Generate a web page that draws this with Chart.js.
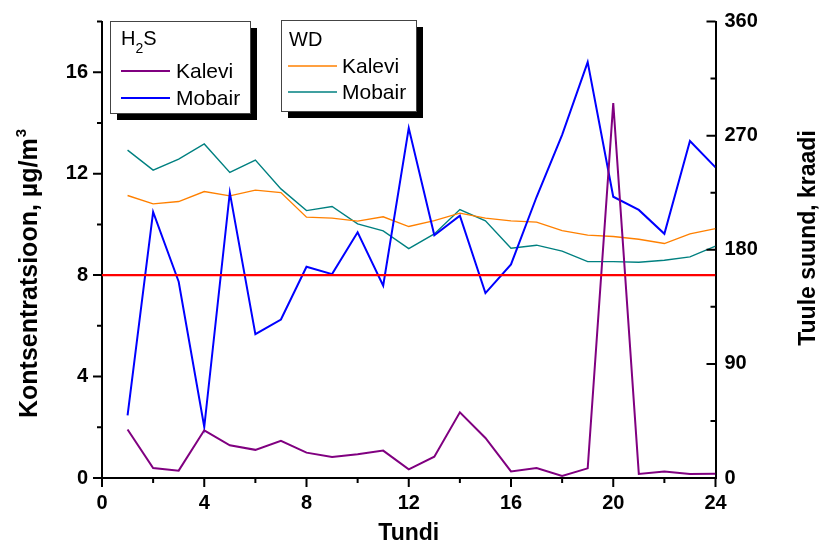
<!DOCTYPE html>
<html>
<head>
<meta charset="utf-8">
<script src="https://cdn.jsdelivr.net/npm/chart.js@4.4.0/dist/chart.umd.min.js"></script>
<style>
  body { margin: 0; background: #fff; }
  #wrap { width: 822px; height: 544px; }
</style>
</head>
<body>
<div id="wrap"><canvas id="chart" width="822" height="544"></canvas></div>
<script>
// hours of the day
const hours = [1, 2, 3, 4, 5, 6, 7, 8, 9, 10, 11, 12, 13, 14, 15, 16, 17, 18, 19, 20, 21, 22, 23, 24];

// H2S concentration, ug/m3
const h2sKalevi = [1.91, 0.39, 0.29, 1.88, 1.29, 1.11, 1.47, 1.0, 0.83, 0.94, 1.08, 0.34,
                   0.84, 2.59, 1.58, 0.26, 0.39, 0.08, 0.38, 14.78, 0.16, 0.26, 0.16, 0.17];
const h2sMobair = [2.47, 10.49, 7.74, 2.01, 11.25, 5.67, 6.25, 8.33, 8.04, 9.69, 7.58, 13.8,
                   9.57, 10.34, 7.29, 8.42, 11.08, 13.53, 16.4, 11.09, 10.57, 9.63, 13.29, 12.25];

// wind direction, degrees
const wdKalevi = [222.8, 216.2, 218, 225.9, 222.5, 227, 225.1, 205.7, 204.9, 202.6, 206, 198.3,
                  203, 208.9, 204.9, 202.8, 201.8, 195.1, 191.5, 190.4, 188.3, 184.9, 192.5, 196.7];
const wdMobair = [258.6, 242.8, 251.5, 263.4, 241, 250.7, 228, 210.9, 214.1, 200.4, 194.9, 180.9,
                  192.5, 211.7, 202.8, 181.2, 183.6, 178.9, 170.6, 170.6, 170.2, 171.7, 174.4, 182.8];

// limit line
const limitX = [0, 24];
const limitY = [8, 8];

// axes
const xRange = [0, 24];
const leftRange = [0, 18];
const rightRange = [0, 360];
const xLabelStep = 4, leftLabelStep = 4, rightLabelStep = 90;

const seriesNames = ['Kalevi', 'Mobair'];
const groupTitles = ['H2S', 'WD'];

const FONT = "'Liberation Sans', Arial, sans-serif";
const purple = '#800080', blue = '#0000ff', orange = '#ff8000', teal = '#008080', red = '#ff0000';

const pts = (xs, ys) => xs.map((x, i) => ({x: x, y: ys[i]}));

// invisible chart.js ticks only reserve room for labels, real marks drawn below
const hiddenGrid = len => ({ display: true, drawOnChartArea: false, drawTicks: true, tickLength: len, color: 'rgba(0,0,0,0)' });

// custom bits: tick marks (minor shorter, right axis inward), axis titles, legend boxes
const extras = {
  id: 'extras',
  afterDraw(chart) {
    const ctx = chart.ctx;
    const xs = chart.scales.x, yl = chart.scales.y, yr = chart.scales.y2;
    ctx.save();
    ctx.strokeStyle = '#000';
    ctx.lineWidth = 2;
    ctx.beginPath();
    xs.ticks.forEach(t => {
      const p = xs.getPixelForValue(t.value);
      const len = t.value % xLabelStep === 0 ? 9 : 5;
      ctx.moveTo(p, xs.top); ctx.lineTo(p, xs.top + len);
    });
    yl.ticks.forEach(t => {
      const p = yl.getPixelForValue(t.value);
      const len = t.value % leftLabelStep === 0 ? 9 : 5;
      ctx.moveTo(yl.right, p); ctx.lineTo(yl.right - len, p);
    });
    yr.ticks.forEach(t => {
      const p = yr.getPixelForValue(t.value);
      const len = t.value % rightLabelStep === 0 ? 9 : 5;
      ctx.moveTo(yr.left, p); ctx.lineTo(yr.left - len, p);
    });
    ctx.stroke();

    // axis titles
    ctx.fillStyle = '#000';
    ctx.font = 'bold 23px ' + FONT;
    ctx.textAlign = 'center';
    ctx.textBaseline = 'alphabetic';
    const ca = chart.chartArea;
    ctx.fillText('Tundi', (ca.left + ca.right) / 2, 540);

    ctx.save();
    ctx.translate(37, 274);
    ctx.rotate(-Math.PI / 2);
    ctx.font = 'bold 25px ' + FONT;
    const main = 'Kontsentratsioon, \u00b5g/m';
    const w1 = ctx.measureText(main).width;
    ctx.font = 'bold 15px ' + FONT;
    const w2 = ctx.measureText('3').width;
    ctx.textAlign = 'left';
    ctx.font = 'bold 25px ' + FONT;
    ctx.fillText(main, -(w1 + w2) / 2, 0);
    ctx.font = 'bold 15px ' + FONT;
    ctx.fillText('3', -(w1 + w2) / 2 + w1 + 1, -11);
    ctx.restore();

    ctx.save();
    ctx.translate(815, 238);
    ctx.rotate(-Math.PI / 2);
    ctx.font = 'bold 23px ' + FONT;
    ctx.textAlign = 'center';
    ctx.fillText('Tuule suund, kraadi', 0, 0);
    ctx.restore();

    // legend boxes
    const box = (x, y, w, h) => {
      ctx.fillStyle = '#000';
      ctx.fillRect(x + 7, y + 7, w, h);
      ctx.fillStyle = '#fff';
      ctx.fillRect(x, y, w, h);
      ctx.strokeStyle = '#444';
      ctx.lineWidth = 1;
      ctx.strokeRect(x + 0.5, y + 0.5, w, h);
    };
    const item = (x1, x2, y, color, width, label, tx, ty) => {
      ctx.strokeStyle = color;
      ctx.lineWidth = width;
      ctx.beginPath(); ctx.moveTo(x1, y); ctx.lineTo(x2, y); ctx.stroke();
      ctx.fillStyle = '#000';
      ctx.font = '21px ' + FONT;
      ctx.textAlign = 'left';
      ctx.fillText(label, tx, ty);
    };

    box(110, 21, 140, 92);
    ctx.fillStyle = '#000';
    ctx.textAlign = 'left';
    ctx.font = '20px ' + FONT;
    ctx.fillText('H', 121, 45);
    let hx = 121 + ctx.measureText('H').width;
    ctx.font = '14px ' + FONT;
    ctx.fillText('2', hx, 53);
    hx += ctx.measureText('2').width;
    ctx.font = '20px ' + FONT;
    ctx.fillText('S', hx, 45);
    item(121, 170, 71, purple, 2, seriesNames[0], 176, 78);
    item(121, 170, 98, blue, 2, seriesNames[1], 176, 105);

    box(281, 20, 135, 91);
    ctx.fillStyle = '#000';
    ctx.font = '20px ' + FONT;
    ctx.fillText(groupTitles[1], 289, 46);
    item(288, 337, 66, orange, 1.5, seriesNames[0], 342, 73);
    item(288, 337, 92, teal, 1.5, seriesNames[1], 342, 99);
    ctx.restore();
  }
};

Chart.defaults.color = '#000';

const ctx = document.getElementById('chart');
new Chart(ctx, {
  type: 'line',
  data: {
    datasets: [
      { label: 'limit', data: pts(limitX, limitY), borderColor: red, borderWidth: 2.2, yAxisID: 'y' },
      { label: 'H2S ' + seriesNames[0], data: pts(hours, h2sKalevi), borderColor: purple, borderWidth: 2, yAxisID: 'y' },
      { label: 'H2S ' + seriesNames[1], data: pts(hours, h2sMobair), borderColor: blue, borderWidth: 2, yAxisID: 'y' },
      { label: 'WD ' + seriesNames[0], data: pts(hours, wdKalevi), borderColor: orange, borderWidth: 1.4, yAxisID: 'y2' },
      { label: 'WD ' + seriesNames[1], data: pts(hours, wdMobair), borderColor: teal, borderWidth: 1.4, yAxisID: 'y2' }
    ]
  },
  options: {
    responsive: false,
    animation: false,
    events: [],
    elements: { point: { radius: 0 }, line: { tension: 0, fill: false } },
    layout: { autoPadding: false, padding: { top: 21.5, left: 0, right: 0, bottom: 0 } },
    plugins: { legend: { display: false }, tooltip: { enabled: false }, title: { display: false } },
    scales: {
      x: {
        type: 'linear', min: xRange[0], max: xRange[1],
        afterFit: s => { s.height = 66; },
        grid: hiddenGrid(13),
        border: { display: true, color: '#000', width: 2 },
        ticks: {
          stepSize: 2, autoSkip: false, maxRotation: 0, padding: 0,
          font: { family: FONT, size: 20, weight: 'bold' },
          callback: v => (v % xLabelStep === 0 ? v : '')
        }
      },
      y: {
        type: 'linear', position: 'left', min: leftRange[0], max: leftRange[1],
        afterFit: s => { s.width = 102; },
        grid: hiddenGrid(14),
        border: { display: true, color: '#000', width: 2 },
        ticks: {
          stepSize: 2, autoSkip: false, padding: 0,
          font: { family: FONT, size: 20, weight: 'bold' },
          callback: v => (v % leftLabelStep === 0 ? v : '')
        }
      },
      y2: {
        type: 'linear', position: 'right', min: rightRange[0], max: rightRange[1],
        afterFit: s => { s.width = 106.5; },
        grid: hiddenGrid(9),
        border: { display: true, color: '#000', width: 2 },
        ticks: {
          stepSize: 45, autoSkip: false, padding: 0,
          font: { family: FONT, size: 20, weight: 'bold' },
          callback: v => (v % rightLabelStep === 0 ? v : '')
        }
      }
    }
  },
  plugins: [extras]
});
</script>
</body>
</html>
